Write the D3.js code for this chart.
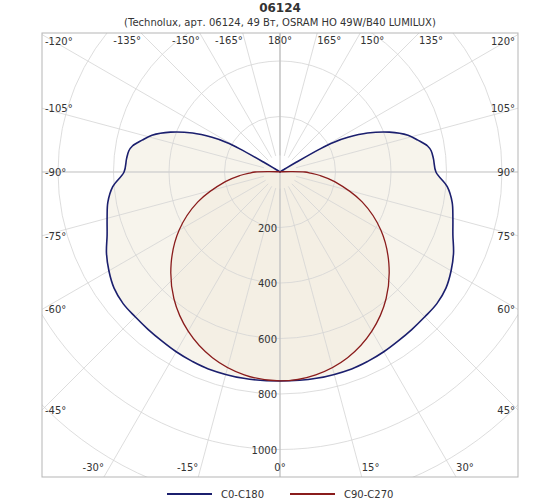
<!DOCTYPE html>
<html><head><meta charset="utf-8">
<script src="https://cdn.jsdelivr.net/npm/d3@7"></script>
<style>body{margin:0;background:#fff}text{font-family:"DejaVu Sans",Verdana,sans-serif;fill:#333}</style>
</head><body><svg id="c" width="560" height="504"></svg>
<script>
// polar intensity curves, cd (angle from nadir, degrees, symmetric)
var angles = [0,10,20,25,30,35,40,45,50,55,60,65,70,75,80,85,90,95,98,100,103,106,110,114,117,119,120,121,122,125,130,180];
var c0c180 = [753,755,755,752,748,743,740,738,738,730,712,690,663,645,630,605,562,555,550,540,510,480,420,345,275,220,165,68,22,5,0,0];
var redAngles = [0,10,20,30,40,50,60,70,80,85,88,90,92,95,100,180];
var c90c270 = [753,742,712,662,595,512,420,315,200,145,110,90,40,10,3,0];
var rings = [200,400,600,800,1000,1200,1400];
var rayAngles = d3.range(-180, 181, 15);

var svg = d3.select('#c');
var L = 42, R = 518, T = 33, B = 477, cx = 280, cy = 172;
var r = d3.scaleLinear().domain([0, 200]).range([0, 55.5]);

svg.append('text').attr('x', 280).attr('y', 12).attr('text-anchor', 'middle')
  .style('font-weight', 'bold').style('font-size', '12px').text('06124');
svg.append('text').attr('x', 280).attr('y', 26).attr('text-anchor', 'middle')
  .style('font-size', '10px').text('(Technolux, арт. 06124, 49 Вт, OSRAM HO 49W/B40 LUMILUX)');

svg.append('clipPath').attr('id', 'clip').append('rect')
  .attr('x', L).attr('y', T).attr('width', R - L).attr('height', B - T);
var g = svg.append('g').attr('clip-path', 'url(#clip)');

function pt(a, v) { var t = a * Math.PI / 180; return [cx + r(v) * Math.sin(t), cy + r(v) * Math.cos(t)]; }

// full closed curve from half data
function full(ang, vals) {
  var pts = [];
  ang.forEach((a, i) => pts.push(pt(a, vals[i])));
  for (var i = ang.length - 2; i > 0; i--) pts.push(pt(-ang[i], vals[i]));
  return pts;
}
var line = d3.line().curve(d3.curveCatmullRomClosed.alpha(0.5));
var blue = full(angles, c0c180), red = full(redAngles, c90c270);

g.append('path').attr('d', line(blue)).attr('fill', '#f7f4ec');
g.append('path').attr('d', line(red)).attr('fill', '#f4efe4');

// grid
g.selectAll('circle.ring').data(rings).enter().append('circle')
  .attr('cx', cx).attr('cy', cy).attr('r', d => r(d))
  .attr('fill', 'none').attr('stroke', '#d4d4d4').attr('stroke-width', 0.8);
g.selectAll('line.ray').data(rayAngles).enter().append('line')
  .attr('x1', d => pt(d, 60)[0]).attr('y1', d => pt(d, 60)[1])
  .attr('x2', d => pt(d, 2000)[0]).attr('y2', d => pt(d, 2000)[1])
  .attr('stroke', '#d4d4d4').attr('stroke-width', 0.8);
g.append('line').attr('x1', cx).attr('x2', cx).attr('y1', T).attr('y2', B).attr('stroke', '#bdbdbd');
g.append('line').attr('x1', L).attr('x2', R).attr('y1', cy).attr('y2', cy).attr('stroke', '#cfcfcf');

g.append('path').attr('d', line(blue)).attr('fill', 'none').attr('stroke', '#1b1f6e').attr('stroke-width', 1.6);
g.append('path').attr('d', line(red)).attr('fill', 'none').attr('stroke', '#8a1c1c').attr('stroke-width', 1.3);

svg.append('rect').attr('x', L).attr('y', T).attr('width', R - L).attr('height', B - T)
  .attr('fill', 'none').attr('stroke', '#b5b5b5');

// radial labels
svg.selectAll('text.rl').data(rings.slice(0, 5)).enter().append('text')
  .attr('x', cx - 3).attr('y', d => cy + r(d) + 4).attr('text-anchor', 'end')
  .style('font-size', '10px').text(d => d);

// angle labels where rays meet the border
rayAngles.filter(d => d > -180).forEach(function(a) {
  var t = a * Math.PI / 180, s = Math.sin(t), c = Math.cos(t);
  var k = Infinity;
  if (s > 0) k = Math.min(k, (R - cx) / s); if (s < 0) k = Math.min(k, (L - cx) / s);
  if (c > 0) k = Math.min(k, (B - cy) / c); if (c < 0) k = Math.min(k, (T - cy) / c);
  var x = cx + k * s, y = cy + k * c;
  var anchor = a === 0 || a === 180 ? 'middle' : (a < 0 ? 'end' : 'start');
  if (Math.abs(x - L) < 1) { x = L + 3; anchor = 'start'; y = Math.min(Math.max(y + 4, T + 12), B - 8); }
  else if (Math.abs(x - R) < 1) { x = R - 3; anchor = 'end'; y = Math.min(Math.max(y + 4, T + 12), B - 8); }
  else if (Math.abs(y - T) < 1) { y = T + 11; }
  else { y = B - 6; }
  svg.append('text').attr('x', x).attr('y', y).attr('text-anchor', anchor)
    .style('font-size', '10px').text(a + '°');
});

// legend
var leg = [['C0-C180', '#1b1f6e', 167], ['C90-C270', '#8a1c1c', 290]];
leg.forEach(function(d) {
  svg.append('line').attr('x1', d[2]).attr('x2', d[2] + 45).attr('y1', 494).attr('y2', 494)
    .attr('stroke', d[1]).attr('stroke-width', 2);
  svg.append('text').attr('x', d[2] + 54).attr('y', 498).style('font-size', '10px').text(d[0]);
});
</script></body></html>
